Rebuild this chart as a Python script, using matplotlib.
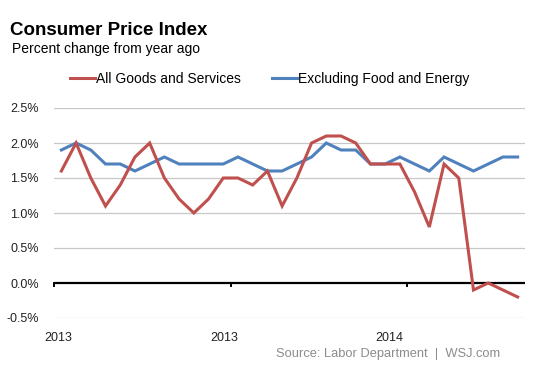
import matplotlib.pyplot as plt
import numpy as np

plt.rcParams['font.family'] = ['Liberation Sans', 'DejaVu Sans']

# year-over-year percent change, monthly
all_items = [1.6, 2.0, 1.5, 1.1, 1.4, 1.8, 2.0, 1.5, 1.2, 1.0, 1.2, 1.5,
             1.5, 1.4, 1.6, 1.1, 1.5, 2.0, 2.1, 2.1, 2.0, 1.7, 1.7, 1.7,
             1.3, 0.8, 1.7, 1.5, -0.1, 0.0, -0.1, -0.2]
core = [1.9, 2.0, 1.9, 1.7, 1.7, 1.6, 1.7, 1.8, 1.7, 1.7, 1.7, 1.7,
        1.8, 1.7, 1.6, 1.6, 1.7, 1.8, 2.0, 1.9, 1.9, 1.7, 1.7, 1.8,
        1.7, 1.6, 1.8, 1.7, 1.6, 1.7, 1.8, 1.8]
year_ticks = [0, 12, 24]
year_labels = ['2013', '2013', '2014']
y_ticks = [-0.5, 0.0, 0.5, 1.0, 1.5, 2.0, 2.5]

RED = '#c0504d'
BLUE = '#4f81bd'

fig = plt.figure(figsize=(5.53, 3.69), dpi=100)
ax = fig.add_axes([54 / 553, 51 / 369, 471 / 553, 210 / 369])

x = np.arange(len(all_items)) + 0.5
ax.plot(x, all_items, color=RED, lw=2.2, label='All Goods and Services',
        solid_joinstyle='miter', zorder=4)
ax.plot(x, core, color=BLUE, lw=2.2, label='Excluding Food and Energy',
        solid_joinstyle='miter', zorder=3)

ax.set_xlim(0, len(all_items))
ax.set_ylim(-0.5, 2.5)

for v in y_ticks:
    if v != 0:
        ax.axhline(v, color='#c8c8c8', lw=0.9, zorder=1)
ax.axhline(0, color='black', lw=1.6, zorder=2)
for t in year_ticks:
    ax.plot([t, t], [0, -0.04], color='black', lw=1.4, clip_on=False, zorder=2)

ax.set_yticks(y_ticks)
ax.set_yticklabels(['%.1f%%' % v for v in y_ticks])
# labels sit a little left of the tick marks, as in the original
ax.set_xticks([0.27, 11.6, 22.8])
ax.set_xticklabels(year_labels)
ax.tick_params(axis='both', length=0, labelsize=9, colors='#222222')
ax.tick_params(axis='y', pad=11)
ax.tick_params(axis='x', pad=10)
for s in ax.spines.values():
    s.set_visible(False)

fig.text(10 / 553, 1 - 35 / 369, 'Consumer Price Index', fontsize=13.5,
         fontweight='bold', color='black')
fig.text(12 / 553, 1 - 53 / 369, 'Percent change from year ago',
         fontsize=10, color='black')
fig.legend(loc='center left', bbox_to_anchor=(70 / 553, 1 - 79 / 369),
           ncol=2, frameon=False, fontsize=10, handlelength=1.8,
           handletextpad=0.1, columnspacing=2.2, borderaxespad=0,
           borderpad=0)
fig.text(500 / 553, 1 - 357 / 369, 'Source: Labor Department  |  WSJ.com',
         fontsize=9.3, color='#8c8c8c', ha='right')

fig.savefig('out.png', dpi=100, facecolor='white')
